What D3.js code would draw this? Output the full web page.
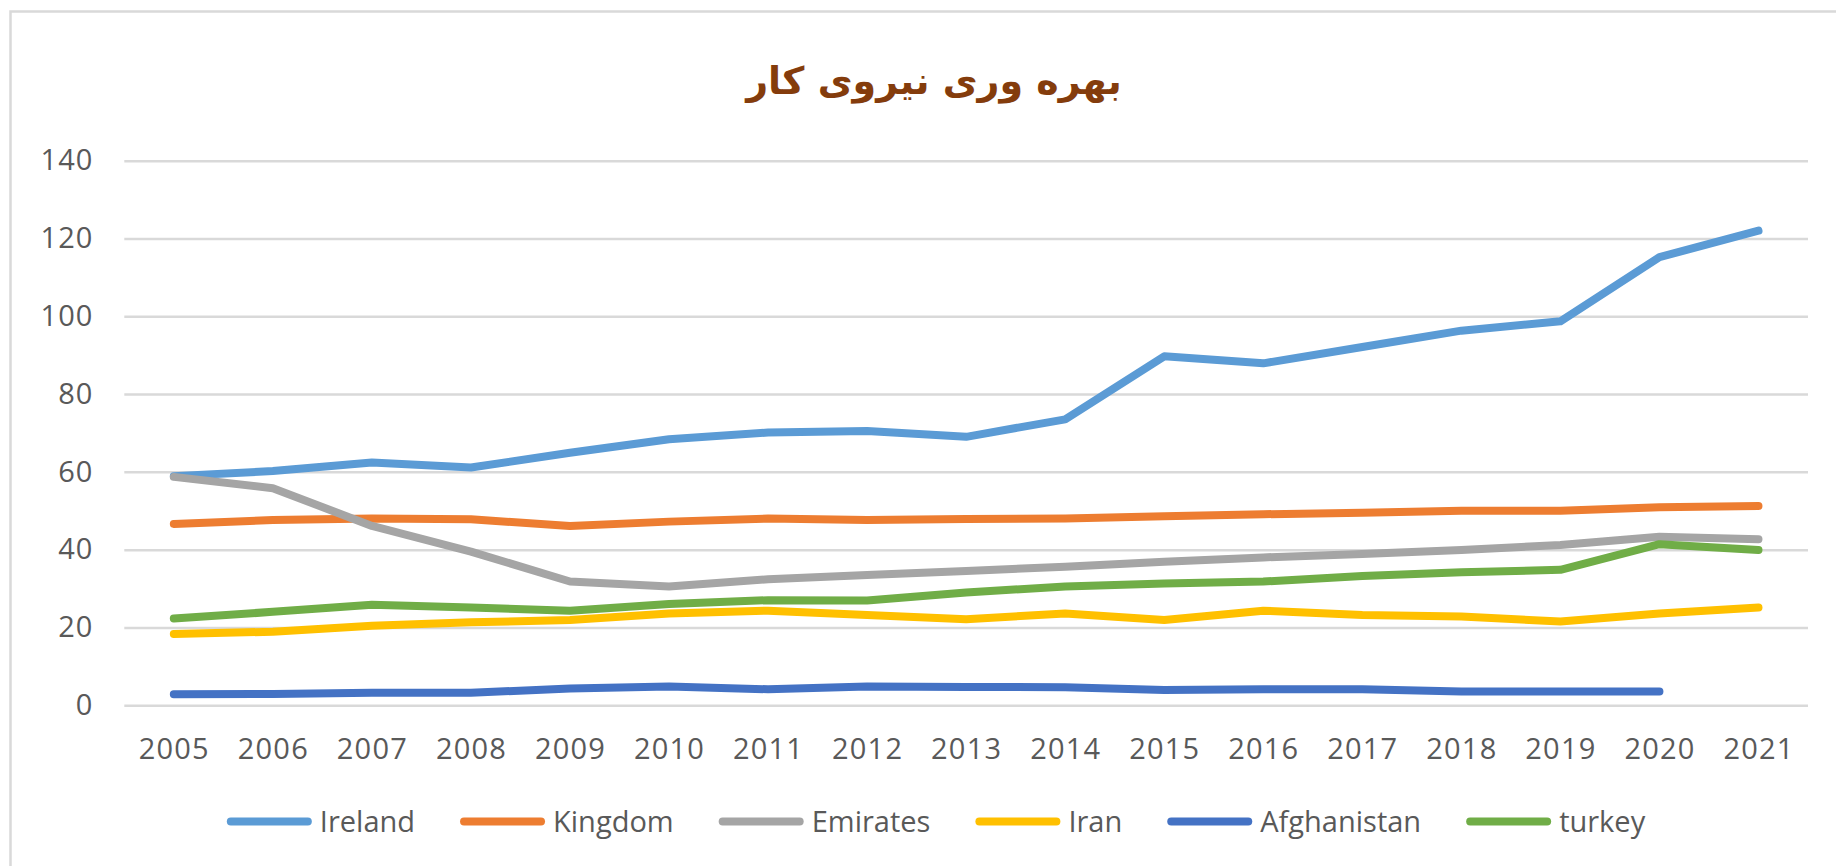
<!DOCTYPE html>
<html>
<head>
<meta charset="utf-8">
<script src="https://cdn.jsdelivr.net/npm/d3@7"></script>
<style>
  html, body { margin: 0; padding: 0; background: #ffffff; }
  svg { display: block; }
</style>
</head>
<body>
<svg id="chart" width="1836" height="866"></svg>
<script>
// Labour productivity by country, 2005–2021
const years = ["2005","2006","2007","2008","2009","2010","2011","2012","2013","2014","2015","2016","2017","2018","2019","2020","2021"];
const seriesNames = ["Ireland","Kingdom","Emirates","Iran","Afghanistan","turkey"];
const seriesColors = ["#5B9BD5","#ED7D31","#A5A5A5","#FFC000","#4472C4","#70AD47"];

const ireland     = [58.9, 60.2, 62.4, 61.1, 64.9, 68.4, 70.1, 70.5, 69.0, 73.5, 89.7, 87.9, 92.1, 96.3, 98.7, 115.2, 122.0];
const kingdom     = [46.6, 47.6, 48.0, 47.8, 46.1, 47.2, 48.0, 47.6, 47.9, 48.0, 48.6, 49.1, 49.5, 50.0, 50.0, 50.9, 51.2];
const emirates    = [58.7, 55.8, 46.1, 39.5, 31.8, 30.5, 32.4, 33.5, 34.5, 35.6, 36.9, 38.0, 38.9, 39.9, 41.2, 43.3, 42.7];
const iran        = [18.3, 18.9, 20.4, 21.3, 21.9, 23.6, 24.3, 23.2, 22.1, 23.6, 21.9, 24.3, 23.2, 22.8, 21.5, 23.6, 25.1];
const afghanistan = [2.8, 2.9, 3.2, 3.2, 4.3, 4.8, 4.1, 4.8, 4.7, 4.6, 3.9, 4.1, 4.1, 3.5, 3.5, 3.5, null];
const turkey      = [22.3, 24.0, 25.8, 25.1, 24.3, 26.0, 27.0, 26.9, 29.0, 30.5, 31.3, 31.8, 33.2, 34.2, 34.8, 41.4, 39.9];

const yTicks = [0, 20, 40, 60, 80, 100, 120, 140];
const titleText = "بهره وری نیروی کار";

const seriesValues = [ireland, kingdom, emirates, iran, afghanistan, turkey];
const series = seriesNames.map((name, i) => ({ name, color: seriesColors[i], values: seriesValues[i] }));

const svg = d3.select("#chart");
const W = 1836, H = 866;
const plot = { left: 124.3, right: 1808, top: 160.7, bottom: 705.2 };

const FONT = "'Open Sans', 'Liberation Sans', sans-serif";
const TEXT_COL = "#595959";
const GRID_COL = "#d9d9d9";

svg.append("rect").attr("width", W).attr("height", H).attr("fill", "#ffffff");

// chart frame (extends past the right and bottom edges)
svg.append("rect")
  .attr("x", 10.5).attr("y", 11.5)
  .attr("width", W + 20).attr("height", H + 20)
  .attr("fill", "none").attr("stroke", GRID_COL).attr("stroke-width", 2.5);

const x = d3.scalePoint().domain(years).range([plot.left, plot.right]).padding(0.5);
const y = d3.scaleLinear().domain([0, 140]).range([plot.bottom, plot.top]);

// gridlines + y labels
const yAxis = d3.axisLeft(y).tickValues(yTicks).tickSize(-(plot.right - plot.left)).tickPadding(31);
const yg = svg.append("g").attr("transform", `translate(${plot.left},0)`).call(yAxis);
yg.select(".domain").remove();
yg.selectAll(".tick line").attr("stroke", GRID_COL).attr("stroke-width", 2.5);
yg.selectAll(".tick text")
  .attr("fill", TEXT_COL).attr("font-family", FONT).attr("font-size", 29)
  .attr("letter-spacing", 1);

// x labels
const xAxis = d3.axisBottom(x).tickSize(0).tickPadding(0);
const xg = svg.append("g").attr("transform", `translate(0,${plot.bottom})`).call(xAxis);
xg.select(".domain").remove();
xg.selectAll(".tick text")
  .attr("y", 0).attr("dy", 0)
  .attr("transform", "translate(0,54)")
  .attr("fill", TEXT_COL).attr("font-family", FONT).attr("font-size", 29)
  .attr("letter-spacing", 1.2);

// series lines
const line = d3.line()
  .defined(d => d.v != null)
  .x(d => x(d.year))
  .y(d => y(d.v));

svg.append("g").selectAll("path")
  .data(series)
  .join("path")
  .attr("d", s => line(s.values.map((v, i) => ({ year: years[i], v }))))
  .attr("fill", "none")
  .attr("stroke", s => s.color)
  .attr("stroke-width", 8)
  .attr("stroke-linejoin", "round")
  .attr("stroke-linecap", "round");

// title
svg.append("text")
  .attr("x", 934).attr("y", 94)
  .attr("text-anchor", "middle")
  .attr("direction", "rtl")
  .attr("font-family", "'DejaVu Sans', sans-serif")
  .attr("font-weight", "bold")
  .attr("font-size", 38)
  .attr("fill", "#843C0C")
  .text(titleText);

// legend
const legend = svg.append("g");
const swatchLen = 85, textGap = 8, itemGap = 45, legendY = 821.5;
const items = legend.selectAll("g").data(series).join("g");
items.append("line")
  .attr("x1", 4).attr("x2", swatchLen - 4)
  .attr("y1", legendY).attr("y2", legendY)
  .attr("stroke", s => s.color).attr("stroke-width", 8).attr("stroke-linecap", "round");
items.append("text")
  .attr("x", swatchLen + textGap).attr("y", legendY).attr("dy", "0.35em")
  .attr("fill", TEXT_COL).attr("font-family", FONT).attr("font-size", 29)
  .text(s => s.name);

let cursor = 0;
const offsets = [];
items.each(function () {
  const w = d3.select(this).select("text").node().getComputedTextLength();
  offsets.push(cursor);
  cursor += swatchLen + textGap + w + itemGap;
});
const total = cursor - itemGap;
const legendCenter = 936;
const start = legendCenter - total / 2;
items.attr("transform", (d, i) => `translate(${start + offsets[i]},0)`);
</script>
</body>
</html>
